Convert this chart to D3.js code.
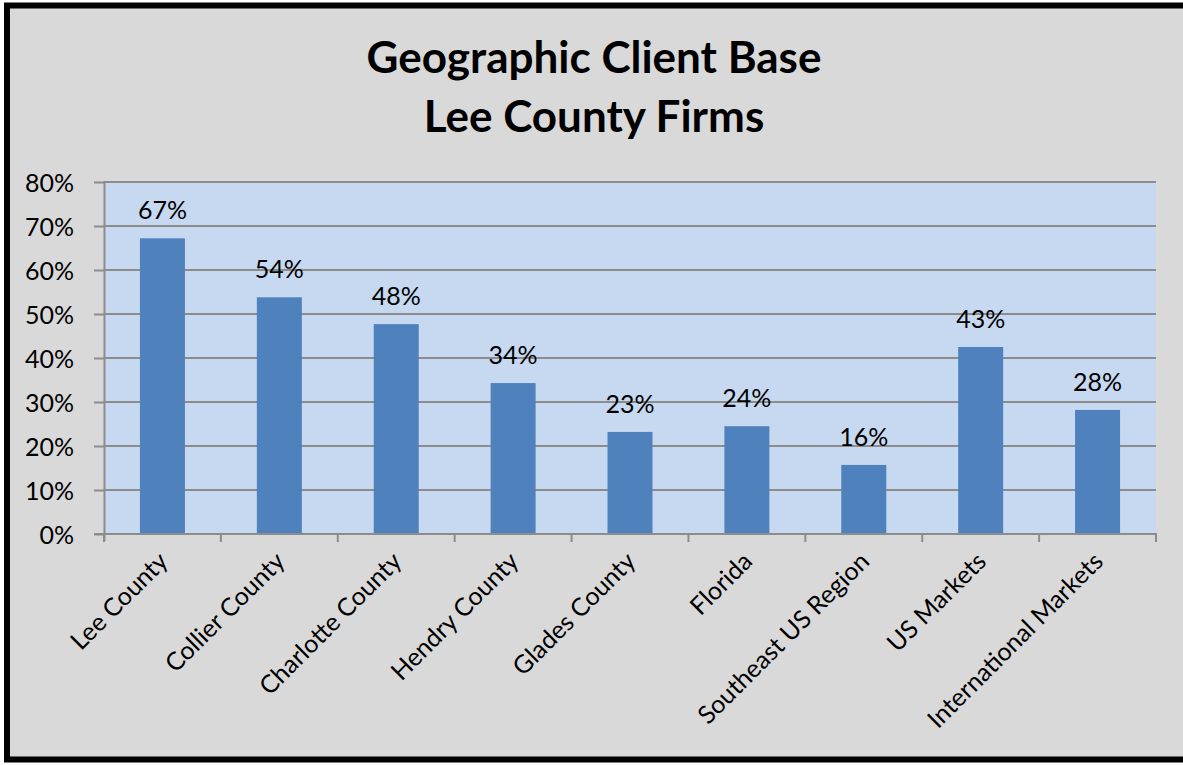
<!DOCTYPE html>
<html><head><meta charset="utf-8">
<script src="https://cdn.jsdelivr.net/npm/d3@7"></script>
<style>
html,body{margin:0;padding:0;background:#fff;}
svg{display:block;}
text{font-family:Lato,"Open Sans",sans-serif;fill:#000;}
</style></head>
<body>
<svg id="chart" width="1183" height="765"></svg>
<script>
const titleLines = ["Geographic Client Base", "Lee County Firms"];
const categories = ["Lee County","Collier County","Charlotte County","Hendry County","Glades County","Florida","Southeast US Region","US Markets","International Markets"];
const values = [0.672, 0.538, 0.477, 0.343, 0.232, 0.245, 0.157, 0.425, 0.282];
const labels = ["67%","54%","48%","34%","23%","24%","16%","43%","28%"];
const yTicks = [0,0.1,0.2,0.3,0.4,0.5,0.6,0.7,0.8];

const svg = d3.select("#chart");
const W = 1183, H = 765;
svg.append("rect").attr("x",0).attr("y",0).attr("width",W).attr("height",H).attr("fill","#ffffff");
svg.append("rect").attr("x",7).attr("y",5.5).attr("width",W+10).attr("height",754)
  .attr("fill","#d9d9d9").attr("stroke","#000").attr("stroke-width",6);

const m = {left:104, right:1156, top:182, bottom:534};
const x = d3.scaleBand().domain(categories).range([m.left, m.right]).paddingInner(0).paddingOuter(0);
const y = d3.scaleLinear().domain([0,0.8]).range([m.bottom, m.top]);

svg.append("rect").attr("x",m.left).attr("y",m.top).attr("width",m.right-m.left).attr("height",m.bottom-m.top)
  .attr("fill","#c6d9f1");

svg.append("g").selectAll("line").data(yTicks.filter(d=>d>0)).join("line")
  .attr("x1",m.left).attr("x2",m.right).attr("y1",d=>y(d)).attr("y2",d=>y(d))
  .attr("stroke","#8c8c8c").attr("stroke-width",2);

const yAxis = d3.axisLeft(y).tickValues(yTicks).tickFormat(d3.format(".0%")).tickSize(10).tickPadding(20);
const gy = svg.append("g").attr("transform",`translate(${m.left},0)`).call(yAxis);
gy.select(".domain").attr("stroke","#8c8c8c").attr("stroke-width",2).attr("d",`M0.5,${m.top-1}V${m.bottom+7}`);
gy.selectAll(".tick line").attr("stroke","#8c8c8c").attr("stroke-width",2);
gy.selectAll(".tick text").attr("font-size",25).attr("font-family","Lato,sans-serif").attr("fill","#000").attr("dy","0.36em");

const bw = 45;
svg.append("g").selectAll("rect").data(values).join("rect")
  .attr("x",(d,i)=>x(categories[i])+x.bandwidth()/2-bw/2)
  .attr("width",bw)
  .attr("y",d=>y(d)).attr("height",d=>y(0)-y(d))
  .attr("fill","#4f81bd");

const gx = svg.append("g").attr("transform",`translate(0,${m.bottom})`);
gx.append("line").attr("x1",m.left-10).attr("x2",m.right+1).attr("y1",0).attr("y2",0).attr("stroke","#8c8c8c").attr("stroke-width",2);
const boundaries = categories.map(c=>x(c)).concat([m.right]);
gx.selectAll("line.tk").data(boundaries).join("line").attr("class","tk")
  .attr("x1",d=>d).attr("x2",d=>d).attr("y1",0).attr("y2",8).attr("stroke","#8c8c8c").attr("stroke-width",2);
gx.selectAll("text").data(categories).join("text")
  .attr("transform",d=>`translate(${x(d)+x.bandwidth()/2+7},${29}) rotate(-45)`)
  .attr("text-anchor","end").attr("font-size",25).text(d=>d);

svg.append("g").selectAll("text").data(values).join("text")
  .attr("x",(d,i)=>x(categories[i])+x.bandwidth()/2)
  .attr("y",d=>y(d)-19)
  .attr("text-anchor","middle").attr("font-size",25).text((d,i)=>labels[i]);

svg.append("g").selectAll("text").data(titleLines).join("text")
  .attr("x",594).attr("y",(d,i)=>73+i*59)
  .attr("text-anchor","middle").attr("font-size",44).attr("font-weight","bold").text(d=>d);
</script>
</body></html>
